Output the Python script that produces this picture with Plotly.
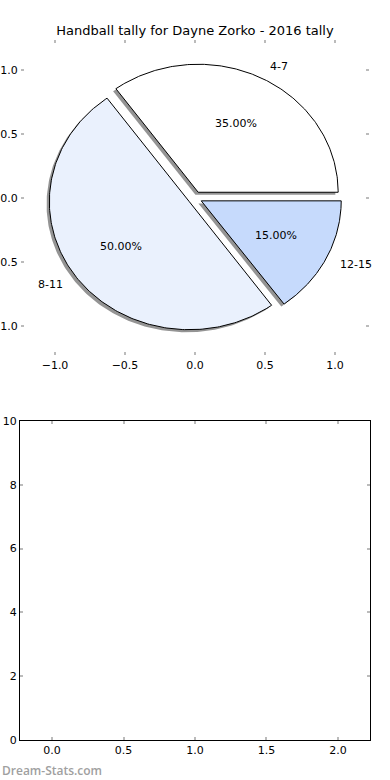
import numpy as np
import plotly.graph_objects as go

# ---- data ----
title = "Handball tally for Dayne Zorko - 2016 tally"
categories = ["4-7", "8-11", "12-15"]
values = [7, 10, 3]
bar_categories = [0, 1, 2]
bar_values = [0, 0, 0]

# ---- style ----
colors = ["#FFFFFF", "#EAF1FD", "#C6DAFC"]
explode = [0.05, 0.05, 0.05]
FONT = "DejaVu Sans"

W, H = 390, 780
fig = go.Figure()

total = float(sum(values))
fracs = [v / total for v in values]
start = 0.0
wedges = []
for i, f in enumerate(fracs):
    t1, t2 = start, start + 360.0 * f
    mid = np.deg2rad((t1 + t2) / 2.0)
    ox, oy = explode[i] * np.cos(mid), explode[i] * np.sin(mid)
    th = np.deg2rad(np.linspace(t1, t2, 200))
    xs = np.concatenate([[0.0], np.cos(th), [0.0]]) + ox
    ys = np.concatenate([[0.0], np.sin(th), [0.0]]) + oy
    wedges.append((xs, ys, mid, ox, oy, f))
    start = t2

# shadows
for xs, ys, *_ in wedges:
    fig.add_trace(go.Scatter(x=xs - 0.02, y=ys - 0.02, mode="lines", fill="toself",
                             fillcolor="rgba(60,60,60,0.55)", line=dict(width=0),
                             hoverinfo="skip", showlegend=False, xaxis="x", yaxis="y"))
# wedges
for i, (xs, ys, mid, ox, oy, f) in enumerate(wedges):
    fig.add_trace(go.Scatter(x=xs, y=ys, mode="lines", fill="toself",
                             fillcolor=colors[i], line=dict(color="black", width=1),
                             name=categories[i], hoverinfo="name", showlegend=False,
                             xaxis="x", yaxis="y"))
# labels
for i, (xs, ys, mid, ox, oy, f) in enumerate(wedges):
    lx, ly = 1.1 * np.cos(mid) + ox, 1.1 * np.sin(mid) + oy
    px, py = 0.6 * np.cos(mid) + ox, 0.6 * np.sin(mid) + oy
    fig.add_annotation(x=lx, y=ly, xref="x", yref="y", text=categories[i],
                       showarrow=False, xanchor="left" if lx > 0 else "right", yanchor="middle",
                       font=dict(family=FONT, size=11, color="black"))
    fig.add_annotation(x=px, y=py, xref="x", yref="y", text="%.2f%%" % (f * 100),
                       showarrow=False, xanchor="center", yanchor="middle",
                       font=dict(family=FONT, size=11, color="black"))

# empty bar chart
fig.add_trace(go.Bar(x=bar_categories, y=bar_values, marker=dict(color="#EAF1FD", line=dict(width=0)),
                     showlegend=False, xaxis="x2", yaxis="y2"))

tickfont = dict(family=FONT, size=11, color="black")
common = dict(ticks="inside", ticklen=3, tickwidth=1.5, tickcolor="#BBBBBB",
              showgrid=False, zeroline=False, tickfont=tickfont, mirror="ticks",
              automargin=False)

fig.update_layout(
    template="none",
    width=W, height=H, margin=dict(l=0, r=0, t=0, b=0, pad=0),
    paper_bgcolor="white", plot_bgcolor="white",
    title=dict(text=title, x=0.5, xanchor="center", y=1 - 30 / H, yanchor="middle",
               font=dict(family=FONT, size=13, color="black")),
    xaxis=dict(domain=[21 / W, 369 / W], range=[-1.243, 1.243],
               tickvals=[-1.0, -0.5, 0.0, 0.5, 1.0], tickformat=".1f",
               showline=True, linecolor="rgba(0,0,0,0)", anchor="y", **common),
    yaxis=dict(domain=[1 - 355 / H, 1 - 40 / H], range=[-1.227, 1.234],
               tickvals=[-1.0, -0.5, 0.0, 0.5, 1.0], tickformat=".1f",
               showline=True, linecolor="rgba(0,0,0,0)", anchor="x", **common),
    xaxis2=dict(domain=[20 / W, 370 / W], range=[-0.224, 2.224],
                tickvals=[0.0, 0.5, 1.0, 1.5, 2.0], tickformat=".1f",
                showline=True, linecolor="black", linewidth=1, anchor="y2", **common),
    yaxis2=dict(domain=[1 - 740 / H, 1 - 421 / H], range=[0, 10],
                tickvals=[0, 2, 4, 6, 8, 10],
                showline=True, linecolor="black", linewidth=1, anchor="x2", **common),
    bargap=0.2,
    showlegend=False,
)

fig.add_annotation(x=0, y=1 - 770 / H, xref="paper", yref="paper", text="Dream-Stats.com",
                   showarrow=False, xanchor="left", yanchor="middle",
                   font=dict(family="Open Sans", size=12, color="#A0A0A0", weight=600))

fig.write_html("out.html", config={"displayModeBar": False},
               post_script="document.body.style.margin='0';document.body.style.overflow='hidden';")
